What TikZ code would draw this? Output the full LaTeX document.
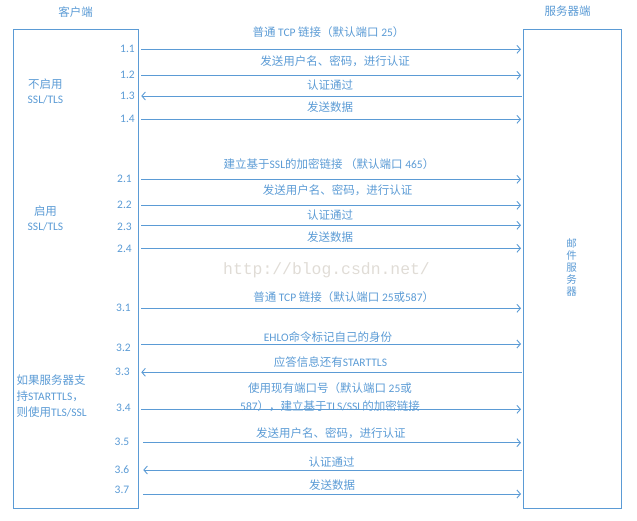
\documentclass[tikz,border=0pt]{standalone}
\usepackage{fontspec}
\setmainfont{Carlito}
\newfontfamily\cjk{Noto Sans CJK SC}
\newfontfamily\wmfont{Liberation Mono}
\usetikzlibrary{arrows.meta}

\definecolor{mailblue}{RGB}{91,155,213}
\definecolor{wmgray}{RGB}{224,220,214}

\tikzset{
  box/.style={draw=mailblue, line width=0.9pt, minimum width=#1, minimum height=479pt, inner sep=0pt, anchor=north west},
  msg/.style={draw=mailblue, line width=0.9pt, >={Straight Barb[length=3.5pt,width=8pt]}},
  lbl/.style={text=mailblue, inner sep=1pt, font=\fontsize{11.5}{15}\selectfont},
  num/.style={lbl, anchor=east},
}

\begin{document}
\begin{tikzpicture}[x=1pt, y=-1pt]
      \useasboundingbox (0,0) rectangle (637,521);

      % BOXES
      % client
      \node[box=125pt] (client) at (13.3,29.3) {};
      \node[lbl] (clienttitle) at (75.5,12) {\cjk 客户端};
      % server
      \node[box=97.4pt] (server) at (523.3,29.3) {};
      \node[lbl] (servertitle) at (567.5,11) {\cjk 服务器端};
      \node[text=mailblue, align=center, font=\cjk\fontsize{10.5}{12.1}\selectfont] (mailsrv) at (571.7,267.5) {邮\\件\\服\\务\\器};

      % watermark
      \node[text=wmgray, font=\wmfont\fontsize{16.4}{18}\selectfont] (wm) at (326.5,270) {http://blog.csdn.net/};

      % GROUPS
      \node[lbl, align=center] (nossl) at (45.5,91) {{\cjk 不启用}\\SSL/TLS};
      \node[lbl, align=center] (ssl) at (45.5,218.5) {{\cjk 启用}\\SSL/TLS};
      \node[lbl, align=left, anchor=west, font=\fontsize{11.5}{16}\selectfont] (starttls) at (15.5,396)
        {{\cjk 如果服务器支}\\{\cjk 持}STARTTLS{\cjk ，}\\{\cjk 则使用}TLS/SSL};

      % ENDS
      \coordinate (c11) at (141.3,49.3);   \coordinate (s11) at (521,49.3);
      \coordinate (c12) at (141.3,75.3);   \coordinate (s12) at (521,75.3);
      \coordinate (c13) at (141.3,96);     \coordinate (s13) at (521.5,96);
      \coordinate (c14) at (141.3,119.3);  \coordinate (s14) at (521,119.3);
      \coordinate (c21) at (141.3,179.3);  \coordinate (s21) at (521,179.3);
      \coordinate (c22) at (141.3,205.3);  \coordinate (s22) at (521,205.3);
      \coordinate (c23) at (141.3,225.3);  \coordinate (s23) at (521,225.3);
      \coordinate (c24) at (141.3,248.3);  \coordinate (s24) at (521,248.3);
      \coordinate (c31) at (141.3,308.3);  \coordinate (s31) at (521,308.3);
      \coordinate (c32) at (141.3,344);    \coordinate (s32) at (521,344);
      \coordinate (c33) at (141.3,372.3);  \coordinate (s33) at (521.5,372.3);
      \coordinate (c34) at (141.3,409.3);  \coordinate (s34) at (521,409.3);
      \coordinate (c35) at (143.3,442.7);  \coordinate (s35) at (521,442.7);
      \coordinate (c36) at (143.3,470);    \coordinate (s36) at (521.5,470);
      \coordinate (c37) at (143.3,494);    \coordinate (s37) at (521,494);

      % ARROWS
      % 1.x
      \draw[msg,->] (c11) -- (s11);
      \draw[msg,->] (c12) -- (s12);
      \draw[msg,<-] (c13) -- (s13);
      \draw[msg,->] (c14) -- (s14);
      % 2.x
      \draw[msg,->] (c21) -- (s21);
      \draw[msg,->] (c22) -- (s22);
      \draw[msg,->] (c23) -- (s23);
      \draw[msg,->] (c24) -- (s24);
      % 3.x
      \draw[msg,->] (c31) -- (s31);
      \draw[msg,->] (c32) -- (s32);
      \draw[msg,<-] (c33) -- (s33);
      \draw[msg,->] (c34) -- (s34);
      \draw[msg,->] (c35) -- (s35);
      \draw[msg,<-] (c36) -- (s36);
      \draw[msg,->] (c37) -- (s37);

      % STEP NUMBERS
      \node[num] (n11) at (136,49.3)  {1.1};
      \node[num] (n12) at (136,75)    {1.2};
      \node[num] (n13) at (136,96)    {1.3};
      \node[num] (n14) at (136,119)   {1.4};
      \node[num] (n21) at (133,179)   {2.1};
      \node[num] (n22) at (133,205)   {2.2};
      \node[num] (n23) at (133,227)   {2.3};
      \node[num] (n24) at (133,249)   {2.4};
      \node[num] (n31) at (132,308)   {3.1};
      \node[num] (n32) at (132,348)   {3.2};
      \node[num] (n33) at (131,372)   {3.3};
      \node[num] (n34) at (132,408)   {3.4};
      \node[num] (n35) at (130.5,442) {3.5};
      \node[num] (n36) at (130.5,470) {3.6};
      \node[num] (n37) at (130.5,490) {3.7};

      % MESSAGES
      \node[lbl] (t11) at (328.5,32)  {{\cjk 普通} TCP {\cjk 链接（默认端口} 25{\cjk ）}};
      \node[lbl] (t12) at (335,61)    {\cjk 发送用户名、密码，进行认证};
      \node[lbl] (t13) at (330,85)    {\cjk 认证通过};
      \node[lbl] (t14) at (330,107)   {\cjk 发送数据};
      \node[lbl] (t21) at (329,164)   {{\cjk 建立基于}SSL{\cjk 的加密链接 （默认端口} 465{\cjk ）}};
      \node[lbl] (t22) at (337.5,190) {\cjk 发送用户名、密码，进行认证};
      \node[lbl] (t23) at (330,215)   {\cjk 认证通过};
      \node[lbl] (t24) at (330,237)   {\cjk 发送数据};
      \node[lbl] (t31) at (343.7,297) {{\cjk 普通} TCP {\cjk 链接（默认端口} 25{\cjk 或}587{\cjk ）}};
      \node[lbl] (t32) at (328,337)   {EHLO{\cjk 命令标记自己的身份}};
      \node[lbl] (t33) at (330.5,362) {{\cjk 应答信息还有}STARTTLS};
      \node[lbl, align=center, font=\fontsize{11.5}{18}\selectfont] (t34) at (330,397)
        {{\cjk 使用现有端口号（默认端口} 25{\cjk 或}\\587{\cjk ），建立基于}TLS/SSL{\cjk 的加密链接}};
      \node[lbl] (t35) at (330.8,433) {\cjk 发送用户名、密码，进行认证};
      \node[lbl] (t36) at (331.5,462) {\cjk 认证通过};
      \node[lbl] (t37) at (332,485)   {\cjk 发送数据};
\end{tikzpicture}
\end{document}
